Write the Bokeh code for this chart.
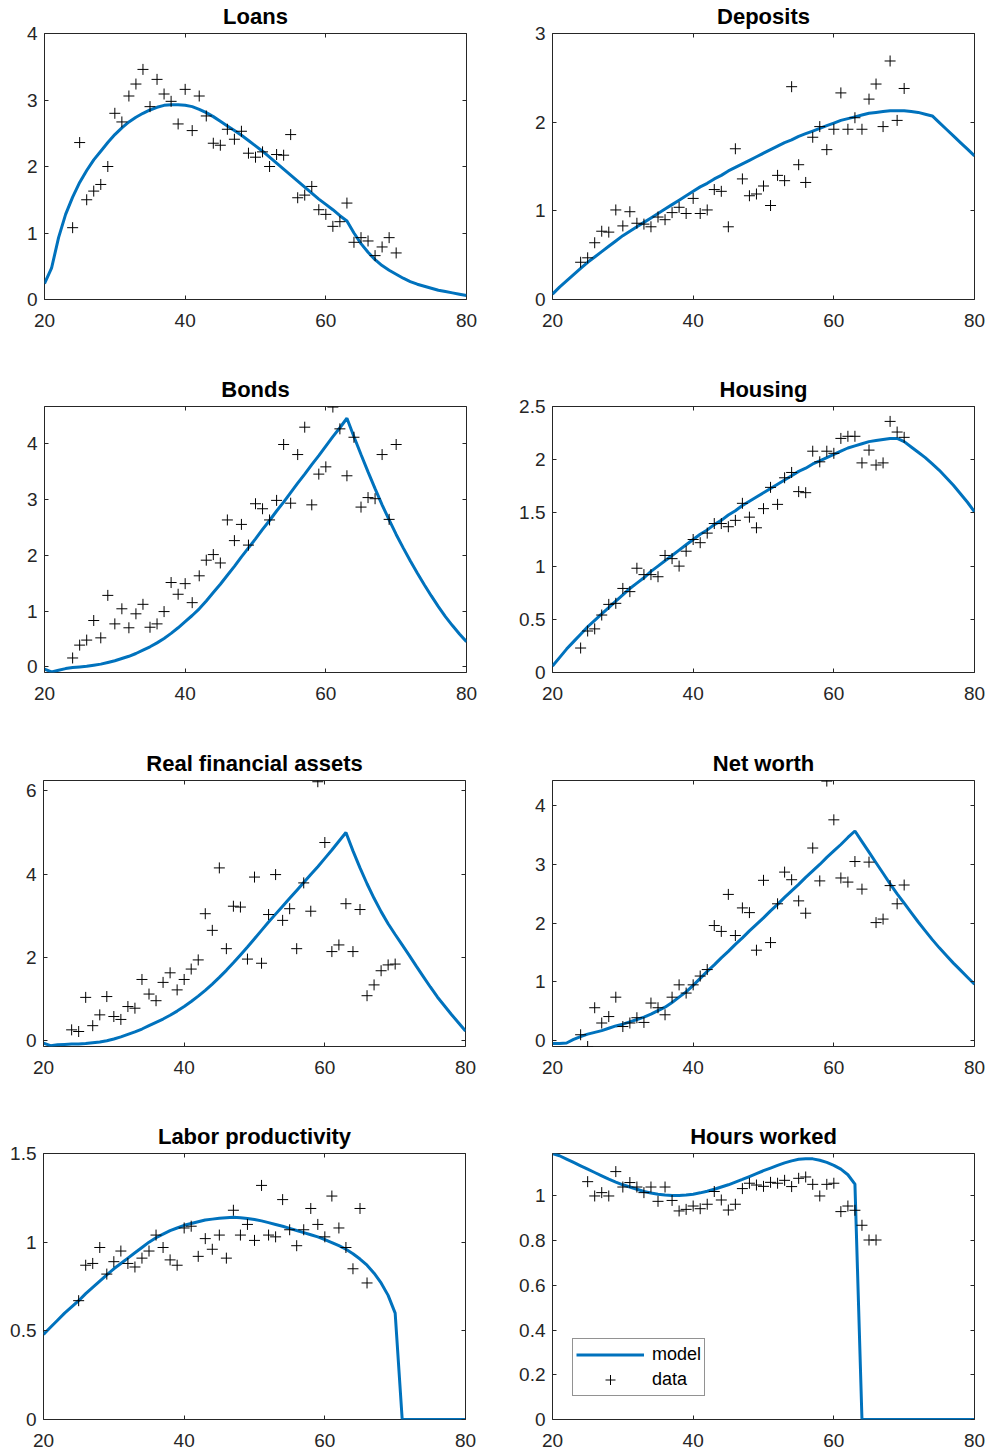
from bokeh.plotting import figure
from bokeh.layouts import column, row
from bokeh.models import (Range1d, FixedTicker, NumeralTickFormatter, LinearAxis,
                          Legend, LegendItem)
from bokeh.embed import file_html
from bokeh.resources import INLINE

# Ages on the model grid and in the survey data
ages_model = list(range(20, 81))
ages_data = list(range(24, 71))
ages_work = list(range(25, 67))
x_ticks = [20, 40, 60, 80]

# Loans
loans_model = [0.24, 0.47, 0.93, 1.28, 1.54, 1.76, 1.94, 2.10, 2.23, 2.36,
               2.48, 2.58, 2.67, 2.74, 2.80, 2.85, 2.89, 2.92, 2.93, 2.93,
               2.92, 2.90, 2.86, 2.81, 2.75, 2.68, 2.61, 2.54, 2.47, 2.39,
               2.31, 2.23, 2.14, 2.05, 1.96, 1.87, 1.78, 1.69, 1.60, 1.51,
               1.43, 1.35, 1.26, 1.18, 1.00, 0.84, 0.71, 0.60, 0.51, 0.44,
               0.38, 0.32, 0.27, 0.23, 0.20, 0.17, 0.14, 0.12, 0.10, 0.08,
               0.06]
loans_data = [1.08, 2.36, 1.50, 1.63, 1.73, 2.00, 2.80, 2.67, 3.06, 3.24,
              3.46, 2.90, 3.31, 3.09, 2.98, 2.64, 3.16, 2.54, 3.06, 2.76,
              2.35, 2.32, 2.56, 2.41, 2.53, 2.20, 2.14, 2.22, 2.00, 2.18,
              2.17, 2.48, 1.53, 1.57, 1.70, 1.35, 1.28, 1.10, 1.17, 1.45,
              0.86, 0.93, 0.88, 0.66, 0.79, 0.93, 0.70]

# Deposits
deposits_model = [0.06, 0.14, 0.21, 0.28, 0.35, 0.42, 0.48, 0.54, 0.60, 0.66,
                  0.72, 0.77, 0.82, 0.87, 0.92, 0.97, 1.02, 1.07, 1.12, 1.17,
                  1.22, 1.27, 1.31, 1.36, 1.40, 1.45, 1.49, 1.53, 1.57, 1.61,
                  1.65, 1.69, 1.73, 1.77, 1.80, 1.84, 1.87, 1.90, 1.93, 1.96,
                  1.99, 2.02, 2.04, 2.06, 2.08, 2.10, 2.11, 2.12, 2.13, 2.13,
                  2.13, 2.12, 2.11, 2.09, 2.07, 1.995, 1.92, 1.845, 1.77, 1.695,
                  1.62]
deposits_data = [0.42, 0.47, 0.64, 0.77, 0.76, 1.01, 0.83, 0.99, 0.86, 0.85,
                 0.82, 0.93, 0.90, 0.98, 1.04, 0.97, 1.14, 0.97, 1.01, 1.24,
                 1.22, 0.82, 1.70, 1.36, 1.17, 1.19, 1.28, 1.06, 1.40, 1.34,
                 2.40, 1.52, 1.32, 1.83, 1.95, 1.69, 1.92, 2.33, 1.92, 2.05,
                 1.92, 2.26, 2.43, 1.95, 2.69, 2.02, 2.38]

# Bonds
bonds_model = [-0.04, -0.09, -0.06, -0.03, -0.01, 0.00, 0.01, 0.03, 0.05, 0.08,
               0.11, 0.15, 0.19, 0.24, 0.30, 0.36, 0.43, 0.51, 0.60, 0.70,
               0.81, 0.92, 1.04, 1.18, 1.33, 1.48, 1.64, 1.80, 1.97, 2.13,
               2.29, 2.46, 2.62, 2.79, 2.95, 3.12, 3.29, 3.45, 3.62, 3.78,
               3.95, 4.12, 4.28, 4.45, 4.12, 3.80, 3.49, 3.19, 2.90, 2.63,
               2.37, 2.13, 1.90, 1.68, 1.47, 1.27, 1.08, 0.90, 0.74, 0.59,
               0.45]
bonds_data = [0.16, 0.39, 0.48, 0.83, 0.52, 1.28, 0.77, 1.04, 0.70, 0.95,
              1.12, 0.71, 0.77, 0.99, 1.51, 1.30, 1.49, 1.15, 1.63, 1.91,
              2.01, 1.86, 2.63, 2.26, 2.55, 2.18, 2.92, 2.83, 2.63, 2.98,
              3.98, 2.93, 3.80, 4.29, 2.90, 3.45, 3.58, 4.65, 4.26, 3.42,
              4.11, 2.86, 3.03, 3.01, 3.80, 2.64, 3.98]

# Housing
housing_model = [0.06, 0.14, 0.22, 0.29, 0.36, 0.43, 0.49, 0.55, 0.61, 0.67,
                 0.73, 0.79, 0.84, 0.89, 0.95, 1.00, 1.05, 1.10, 1.15, 1.20,
                 1.25, 1.30, 1.34, 1.39, 1.43, 1.48, 1.52, 1.57, 1.61, 1.65,
                 1.69, 1.73, 1.77, 1.81, 1.85, 1.89, 1.92, 1.96, 1.99, 2.02,
                 2.05, 2.08, 2.11, 2.13, 2.15, 2.17, 2.18, 2.19, 2.20, 2.20,
                 2.17, 2.12, 2.07, 2.02, 1.96, 1.90, 1.83, 1.76, 1.68, 1.60,
                 1.51]
housing_data = [0.23, 0.39, 0.41, 0.54, 0.64, 0.65, 0.79, 0.76, 0.98, 0.92,
                0.92, 0.90, 1.10, 1.07, 1.00, 1.14, 1.25, 1.22, 1.31, 1.40,
                1.40, 1.37, 1.43, 1.59, 1.46, 1.36, 1.54, 1.74, 1.58, 1.83,
                1.88, 1.70, 1.69, 2.08, 1.98, 2.08, 2.06, 2.20, 2.22, 2.22,
                1.97, 2.09, 1.95, 1.97, 2.36, 2.26, 2.21]

# Real financial assets
rfa_model = [-0.06, -0.12, -0.10, -0.09, -0.08, -0.08, -0.07, -0.05, -0.03, 0.00,
             0.04, 0.09, 0.15, 0.21, 0.28, 0.36, 0.44, 0.52, 0.61, 0.71,
             0.82, 0.94, 1.07, 1.21, 1.36, 1.52, 1.69, 1.87, 2.06, 2.25,
             2.45, 2.65, 2.85, 3.04, 3.23, 3.42, 3.61, 3.80, 3.99, 4.18,
             4.38, 4.58, 4.79, 5.00, 4.56, 4.15, 3.77, 3.42, 3.10, 2.81,
             2.55, 2.30, 2.05, 1.79, 1.54, 1.29, 1.05, 0.84, 0.63, 0.43,
             0.23]
rfa_data = [0.26, 0.22, 1.04, 0.36, 0.62, 1.06, 0.58, 0.51, 0.82, 0.78,
            1.47, 1.12, 0.96, 1.40, 1.63, 1.22, 1.47, 1.72, 1.94, 3.05,
            2.65, 4.15, 2.21, 3.23, 3.21, 1.96, 3.93, 1.86, 3.03, 3.99,
            2.89, 3.17, 2.21, 3.79, 3.11, 6.22, 4.76, 2.14, 2.30, 3.29,
            2.14, 3.15, 1.08, 1.34, 1.68, 1.82, 1.84]

# Net worth
networth_model = [-0.05, -0.05, -0.04, 0.02, 0.07, 0.11, 0.14, 0.17, 0.21, 0.25,
                  0.28, 0.32, 0.36, 0.40, 0.45, 0.51, 0.57, 0.65, 0.74, 0.83,
                  0.94, 1.06, 1.18, 1.29, 1.41, 1.52, 1.64, 1.75, 1.87, 1.98,
                  2.09, 2.21, 2.32, 2.44, 2.55, 2.66, 2.78, 2.89, 3.00, 3.12,
                  3.23, 3.34, 3.46, 3.57, 3.39, 3.21, 3.03, 2.85, 2.67, 2.50,
                  2.34, 2.18, 2.02, 1.87, 1.72, 1.58, 1.45, 1.32, 1.20, 1.08,
                  0.96]
networth_data = [0.10, -0.10, 0.56, 0.30, 0.41, 0.74, 0.24, 0.30, 0.39, 0.31,
                 0.64, 0.56, 0.44, 0.74, 0.95, 0.81, 0.95, 1.10, 1.21, 1.96,
                 1.86, 2.49, 1.79, 2.26, 2.18, 1.54, 2.73, 1.67, 2.33, 2.87,
                 2.74, 2.38, 2.17, 3.28, 2.72, 4.42, 3.76, 2.77, 2.70, 3.05,
                 2.58, 3.04, 2.01, 2.07, 2.64, 2.33, 2.65]

# Labor productivity
labor_model = [0.48, 0.52, 0.56, 0.60, 0.635, 0.67, 0.71, 0.745, 0.78, 0.815,
               0.85, 0.88, 0.91, 0.94, 0.97, 1.00, 1.025, 1.045, 1.065, 1.08,
               1.095, 1.105, 1.115, 1.125, 1.13, 1.135, 1.138, 1.14, 1.138, 1.134,
               1.128, 1.12, 1.11, 1.10, 1.09, 1.078, 1.066, 1.054, 1.042, 1.03,
               1.015, 0.998, 0.98, 0.96, 0.935, 0.905, 0.87, 0.825, 0.77, 0.70,
               0.60, 0.0, 0.0, 0.0, 0.0, 0.0, 0.0, 0.0, 0.0, 0.0,
               0.0]
labor_data = [0.67, 0.87, 0.88, 0.97, 0.82, 0.89, 0.95, 0.88, 0.86, 0.91,
              0.95, 1.04, 0.97, 0.90, 0.87, 1.08, 1.09, 0.92, 1.02, 0.96,
              1.04, 0.91, 1.18, 1.04, 1.10, 1.01, 1.32, 1.04, 1.03, 1.24,
              1.07, 0.98, 1.07, 1.19, 1.10, 1.03, 1.26, 1.08, 0.97, 0.85,
              1.19, 0.77]

# Hours worked
hours_model = [1.19, 1.18, 1.165, 1.15, 1.135, 1.12, 1.105, 1.09, 1.075, 1.062,
               1.05, 1.04, 1.03, 1.02, 1.013, 1.008, 1.004, 1.002, 1.002, 1.004,
               1.008, 1.014, 1.021, 1.03, 1.04, 1.05, 1.062, 1.074, 1.087, 1.10,
               1.113, 1.125, 1.137, 1.148, 1.157, 1.164, 1.167, 1.166, 1.16, 1.15,
               1.137, 1.12, 1.095, 1.053, 0.0, 0.0, 0.0, 0.0, 0.0, 0.0,
               0.0, 0.0, 0.0, 0.0, 0.0, 0.0, 0.0, 0.0, 0.0, 0.0,
               0.0]
hours_data = [1.064, 1.00, 1.015, 1.00, 1.109, 1.04, 1.06, 1.04, 1.015, 1.04,
              0.976, 1.04, 0.98, 0.933, 0.94, 0.955, 0.943, 0.963, 1.02, 0.982,
              0.937, 0.963, 1.033, 1.057, 1.049, 1.043, 1.061, 1.057, 1.07, 1.042,
              1.079, 1.085, 1.052, 1.00, 1.052, 1.057, 0.93, 0.955, 0.936, 0.869,
              0.803, 0.803]

BLUE = "#0072BD"
INK = "#262626"
FONT = "Liberation Sans"
FRAME_W, FRAME_H = 422, 266


def labelled_axis(ticks, standoff):
    ax = LinearAxis(ticker=FixedTicker(ticks=ticks),
                    formatter=NumeralTickFormatter(format="0.[0]"))
    ax.major_tick_in = 4
    ax.major_tick_out = 0
    ax.major_tick_line_color = INK
    ax.minor_tick_line_color = None
    ax.axis_line_color = None
    ax.major_label_text_font = FONT
    ax.major_label_text_font_size = "19px"
    ax.major_label_text_color = INK
    ax.major_label_standoff = standoff
    return ax


def mirror_axis(ticks):
    # tick marks only, on the opposite side of the box; minor ticks carry no labels
    ax = LinearAxis(ticker=FixedTicker(ticks=[], minor_ticks=ticks))
    ax.major_tick_line_color = None
    ax.minor_tick_in = 4
    ax.minor_tick_out = 0
    ax.minor_tick_line_color = INK
    ax.axis_line_color = None
    ax.major_label_standoff = 0
    return ax


def make_panel(title, model, xd, yd, y_lim, y_ticks, left, right, top, bottom):
    p = figure(width=left + FRAME_W + right, height=top + FRAME_H + bottom,
               x_range=Range1d(20, 80), y_range=Range1d(*y_lim),
               x_axis_type=None, y_axis_type=None,
               output_backend="svg", toolbar_location=None,
               min_border_left=left, min_border_right=right,
               min_border_top=top, min_border_bottom=bottom)
    p.add_layout(labelled_axis(x_ticks, 14), "below")
    p.add_layout(labelled_axis(y_ticks, 7), "left")
    p.add_layout(mirror_axis(x_ticks), "above")
    p.add_layout(mirror_axis(y_ticks), "right")
    p.outline_line_color = INK
    p.outline_line_width = 1
    p.outline_line_alpha = 1
    p.background_fill_color = "white"
    p.border_fill_color = "white"

    p.title.text = title
    p.title.align = "center"
    p.title.vertical_align = "top"
    p.title.text_font = FONT
    p.title.text_font_size = "22px"
    p.title.text_font_style = "bold"
    p.title.text_color = "black"
    p.title.standoff = 6

    line_r = p.line(ages_model, model, line_color=BLUE, line_width=3)
    dots_r = p.scatter(xd, yd, marker="cross", size=11,
                       line_color="black", line_width=1)
    return p, line_r, dots_r


p1, _, _ = make_panel("Loans", loans_model, ages_data, loans_data,
                      (0, 4), [0, 1, 2, 3, 4], 44, 29, 33, 74)
p2, _, _ = make_panel("Deposits", deposits_model, ages_data, deposits_data,
                      (0, 3), [0, 1, 2, 3], 57, 16, 33, 74)
p3, _, _ = make_panel("Bonds", bonds_model, ages_data, bonds_data,
                      (-0.1, 4.66), [0, 1, 2, 3, 4], 44, 29, 33, 75)
p4, _, _ = make_panel("Housing", housing_model, ages_data, housing_data,
                      (0, 2.5), [0, 0.5, 1, 1.5, 2, 2.5], 57, 16, 33, 75)
p5, _, _ = make_panel("Real financial assets", rfa_model, ages_data, rfa_data,
                      (-0.14, 6.25), [0, 2, 4, 6], 43, 30, 33, 74)
p6, _, _ = make_panel("Net worth", networth_model, ages_data, networth_data,
                      (-0.1, 4.43), [0, 1, 2, 3, 4], 57, 16, 33, 74)
p7, _, _ = make_panel("Labor productivity", labor_model, ages_work, labor_data,
                      (0, 1.5), [0, 0.5, 1, 1.5], 43, 30, 33, 33)
p8, line8, dots8 = make_panel("Hours worked", hours_model, ages_work, hours_data,
                              (0, 1.19), [0, 0.2, 0.4, 0.6, 0.8, 1], 57, 16, 33, 33)

legend = Legend(items=[LegendItem(label="model", renderers=[line8]),
                       LegendItem(label="data", renderers=[dots8])],
                location=(20, 23))
legend.label_text_font = FONT
legend.label_text_font_size = "18px"
legend.label_text_color = "black"
legend.glyph_width = 68
legend.glyph_height = 25
legend.label_height = 25
legend.label_standoff = 8
legend.padding = 3
legend.spacing = 0
legend.margin = 0
legend.border_line_color = INK
legend.border_line_width = 1
legend.background_fill_color = "white"
legend.background_fill_alpha = 1
p8.add_layout(legend)

layout = column(row(p1, p2), row(p3, p4), row(p5, p6), row(p7, p8))

open("out.html", "w").write(file_html(layout, INLINE))
